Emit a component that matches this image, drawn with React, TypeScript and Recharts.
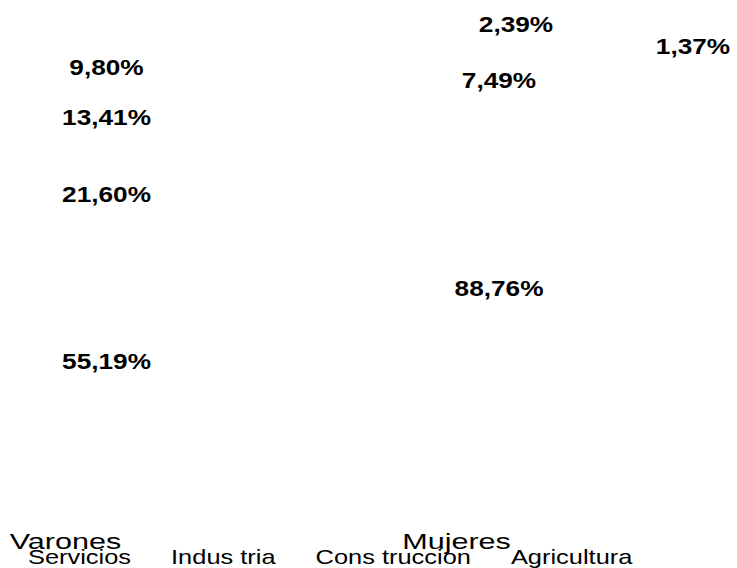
import React from 'react';
import { BarChart, Bar, XAxis, YAxis, LabelList, Legend } from 'recharts';

const categories = ['Varones', 'Mujeres'];
const servicios = [55.19, 88.76];
const industria = [21.6, 7.49];
const construccion = [13.41, 2.39];
const agricultura = [9.8, 1.37];
const seriesNames = ['Servicios', 'Indus tria', 'Cons truccion', 'Agricultura'];
const seriesKeys = ['servicios', 'industria', 'construccion', 'agricultura'];

const data = categories.map((c, i) => ({
  category: c,
  servicios: servicios[i],
  industria: industria[i],
  construccion: construccion[i],
  agricultura: agricultura[i],
}));

// manual label nudges (style), per series, per category index
const LABEL_NUDGE: Record<string, { dx: number; dy: number }[]> = {
  servicios: [{ dx: 0, dy: 0 }, { dx: 0, dy: 0 }],
  industria: [{ dx: 0, dy: 0 }, { dx: 0, dy: 2 }],
  construccion: [{ dx: 0, dy: 0 }, { dx: 17, dy: -33 }],
  agricultura: [{ dx: 0, dy: 0 }, { dx: 194, dy: -3 }],
};

const FONT = '"Liberation Sans", Arial, sans-serif';
const STRETCH = 1.22; // horizontal stretch of the reference's label text
const LEGEND_STRETCH = 1.21;
const CAT_STRETCH = 1.37;

const fmt = (v: number) => v.toFixed(2).replace('.', ',') + '%';

const makeLabel = (key: string) => (props: any) => {
  const vb = props.viewBox ?? props;
  const { x, y, width, height } = vb;
  const idx = props.index ?? 0;
  const n = LABEL_NUDGE[key][idx] || { dx: 0, dy: 0 };
  const cx = x + width / 2 + n.dx;
  const cy = y + height / 2 + n.dy;
  return (
    <g transform={`translate(${cx},${cy}) scale(${STRETCH},1)`}>
      <text
        x={0}
        y={0}
        textAnchor="middle"
        dominantBaseline="central"
        fontFamily={FONT}
        fontWeight="bold"
        fontSize={21.5}
        fill="#000"
      >
        {fmt(Number(props.value))}
      </text>
    </g>
  );
};

const CategoryTick = (props: any) => {
  const { x, y, payload } = props;
  return (
    <g transform={`translate(${x - 96.5},${y + 60}) scale(${CAT_STRETCH},1)`}>
      <text x={0} y={0} textAnchor="start" fontFamily={FONT} fontSize={22.3} fill="#000">
        {payload.value}
      </text>
    </g>
  );
};

const LegendContent = () => (
  <div
    style={{
      display: 'flex',
      fontFamily: FONT,
      fontSize: 21,
      lineHeight: 'normal',
      color: '#000',
      paddingLeft: 28 / LEGEND_STRETCH,
      transform: `scaleX(${LEGEND_STRETCH})`,
      transformOrigin: '0 0',
      width: 737 / LEGEND_STRETCH,
    }}
  >
    {seriesNames.map((n) => (
      <span key={n} style={{ marginRight: 40 / LEGEND_STRETCH, whiteSpace: 'pre' }}>
        {n}
      </span>
    ))}
  </div>
);

export default function App() {
  return (
    <div style={{ position: 'absolute', left: 0, top: 0, background: '#fff' }}>
      <BarChart
        width={737}
        height={568}
        data={data}
        margin={{ top: 46, right: 42, left: -90, bottom: 57 }}
        barCategoryGap="40%"
      >
        <XAxis
          dataKey="category"
          axisLine={false}
          tickLine={false}
          height={30}
          tick={<CategoryTick />}
          interval={0}
        />
        <YAxis hide domain={[0, 100]} />
        <Legend
          layout="horizontal"
          align="center"
          verticalAlign="middle"
          content={<LegendContent />}
          wrapperStyle={{ left: 0, top: 545, width: 737, bottom: 'auto' }}
        />
        {seriesKeys.map((k, i) => (
          <Bar
            key={k}
            dataKey={k}
            name={seriesNames[i]}
            stackId="a"
            fill="#ffffff"
            isAnimationActive={false}
          >
            <LabelList dataKey={k} content={makeLabel(k)} />
          </Bar>
        ))}
      </BarChart>
    </div>
  );
}
